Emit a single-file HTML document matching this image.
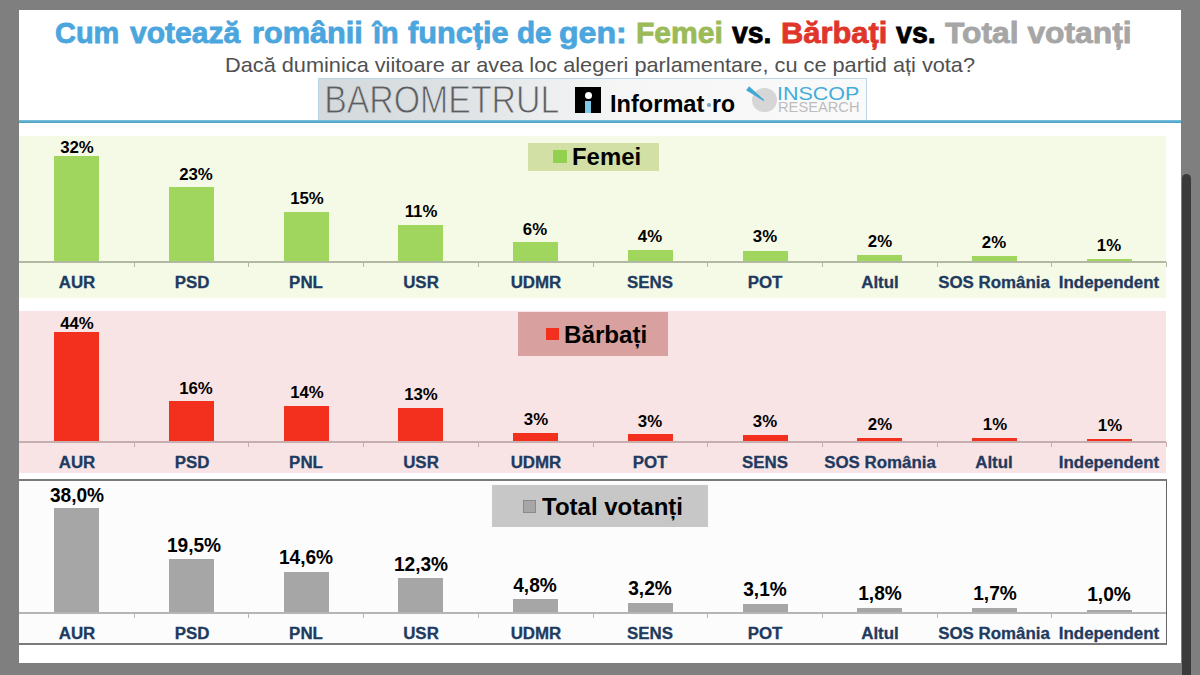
<!DOCTYPE html>
<html><head><meta charset="utf-8"><style>
html,body{margin:0;padding:0;}
body{width:1200px;height:675px;background:#7f7f7f;position:relative;overflow:hidden;font-family:"Liberation Sans", sans-serif;}
.t{position:absolute;line-height:1;white-space:nowrap;}
.c{text-align:center;}
.r{position:absolute;}
</style></head><body>
<div class="r" style="left:19.00px;top:10.00px;width:1162.00px;height:653.00px;background:#ffffff;"></div>
<div class="r" style="left:1182.00px;top:174.00px;width:9.00px;height:501.00px;background:#3b3b3b;border-radius:4.5px 4.5px 0 0;"></div>
<div class="t" style="left:55.44px;top:17.61px;font-size:30px;font-weight:bold;color:#4BA6DE;transform:scaleX(0.9654);transform-origin:0 0;-webkit-text-stroke:0.8px currentColor;">Cum</div>
<div class="t" style="left:129.90px;top:17.61px;font-size:30px;font-weight:bold;color:#4BA6DE;transform:scaleX(1.0027);transform-origin:0 0;-webkit-text-stroke:0.8px currentColor;">votează</div>
<div class="t" style="left:251.75px;top:17.61px;font-size:30px;font-weight:bold;color:#4BA6DE;transform:scaleX(1.0230);transform-origin:0 0;-webkit-text-stroke:0.8px currentColor;">românii</div>
<div class="t" style="left:373.45px;top:17.61px;font-size:30px;font-weight:bold;color:#4BA6DE;transform:scaleX(0.9577);transform-origin:0 0;-webkit-text-stroke:0.8px currentColor;">în</div>
<div class="t" style="left:408.19px;top:17.61px;font-size:30px;font-weight:bold;color:#4BA6DE;transform:scaleX(1.0217);transform-origin:0 0;-webkit-text-stroke:0.8px currentColor;">funcție</div>
<div class="t" style="left:517.11px;top:17.61px;font-size:30px;font-weight:bold;color:#4BA6DE;transform:scaleX(0.9878);transform-origin:0 0;-webkit-text-stroke:0.8px currentColor;">de</div>
<div class="t" style="left:559.01px;top:17.61px;font-size:30px;font-weight:bold;color:#4BA6DE;transform:scaleX(1.0709);transform-origin:0 0;-webkit-text-stroke:0.8px currentColor;">gen:</div>
<div class="t" style="left:635.50px;top:17.61px;font-size:30px;font-weight:bold;color:#9BBB59;transform:scaleX(1.0024);transform-origin:0 0;-webkit-text-stroke:0.8px currentColor;">Femei</div>
<div class="t" style="left:732.41px;top:17.61px;font-size:30px;font-weight:bold;color:#000;transform:scaleX(0.9470);transform-origin:0 0;-webkit-text-stroke:0.8px currentColor;">vs.</div>
<div class="t" style="left:781.44px;top:17.61px;font-size:30px;font-weight:bold;color:#E0352B;transform:scaleX(1.0282);transform-origin:0 0;-webkit-text-stroke:0.8px currentColor;">Bărbați</div>
<div class="t" style="left:895.90px;top:17.61px;font-size:30px;font-weight:bold;color:#000;transform:scaleX(0.9520);transform-origin:0 0;-webkit-text-stroke:0.8px currentColor;">vs.</div>
<div class="t" style="left:944.68px;top:17.61px;font-size:30px;font-weight:bold;color:#A6A6A6;transform:scaleX(1.0593);transform-origin:0 0;-webkit-text-stroke:0.8px currentColor;">Total votanți</div>
<div class="t" style="left:224.89px;top:53.72px;font-size:21px;font-weight:normal;color:#505050;transform:scaleX(1.0347);transform-origin:0 0;">Dacă duminica viitoare ar avea loc alegeri parlamentare, cu ce partid ați vota?</div>
<div class="r" style="left:318.00px;top:78.00px;width:549.00px;height:42.00px;background:linear-gradient(90deg,#d3d9dc 0%,#dee2e4 25%,#eceeef 42%,#f6f6f6 55%,#fafafa 100%);box-sizing:border-box;border:1px solid #b9d7e6;border-bottom:none;"></div>
<svg class="r" style="left:318px;top:78px" width="549" height="42"><defs><linearGradient id="bg1" gradientUnits="userSpaceOnUse" x1="0" y1="0" x2="549" y2="0"><stop offset="0" stop-color="#d3d9dc"/><stop offset="0.25" stop-color="#dee2e4"/><stop offset="0.42" stop-color="#eceeef"/><stop offset="0.55" stop-color="#f6f6f6"/><stop offset="1" stop-color="#fafafa"/></linearGradient></defs><g transform="translate(6.14,0) scale(0.8916,1)"><text x="0" y="34.75" font-family="Liberation Sans" font-size="38" fill="#5c5d60" stroke="url(#bg1)" stroke-width="0.9" style="paint-order:normal">BAROMETRUL</text></g></svg>
<div class="r" style="left:575.40px;top:86.70px;width:25.90px;height:26.00px;background:#000;"></div>
<div class="r" style="left:584.8px;top:91.6px;width:7px;height:7px;border-radius:50%;background:#fff"></div>
<div class="r" style="left:585.00px;top:100.60px;width:6.30px;height:12.10px;background:#7EC8E3;"></div>
<div class="t" style="left:609.58px;top:92.58px;font-size:23.3px;font-weight:bold;color:#000;transform:scaleX(1.0120);transform-origin:0 0;">Informat</div>
<div class="r" style="left:707.2px;top:103.2px;width:3.4px;height:3.4px;border-radius:50%;background:#7aa7c7"></div>
<div class="t" style="left:712.22px;top:92.58px;font-size:23.3px;font-weight:bold;color:#000;transform:scaleX(0.9856);transform-origin:0 0;">ro</div>
<div class="r" style="left:752.2px;top:87.7px;width:24.6px;height:24.6px;border-radius:50%;background:#d6d6d6"></div>
<svg class="r" style="left:740px;top:80px" width="40" height="30"><polygon points="6.1,10.3 9.1,6.3 24.4,20.1 23.6,21" fill="#3fa9d6"/></svg>
<div class="t" style="left:777.44px;top:84.76px;font-size:18.6px;font-weight:normal;color:#43ADDA;transform:scaleX(1.1545);transform-origin:0 0;">INSCOP</div>
<div class="t" style="left:778.23px;top:101.12px;font-size:13.8px;font-weight:normal;color:#bdbdbd;transform:scaleX(1.0631);transform-origin:0 0;">RESEARCH</div>
<div class="r" style="left:19.00px;top:120.00px;width:1162.00px;height:3.00px;background:linear-gradient(180deg,#7cc3e2 0%,#5eaed0 50%,#4e9bbb 100%);"></div>
<div class="r" style="left:19.00px;top:136.00px;width:1147.00px;height:162.00px;background:#F5FAE7;"></div>
<div class="r" style="left:54.35px;top:155.75px;width:45.00px;height:107.25px;background:#A0D55E;"></div>
<div class="r" style="left:169.05px;top:187.00px;width:45.00px;height:76.00px;background:#A0D55E;"></div>
<div class="r" style="left:283.75px;top:212.00px;width:45.00px;height:51.00px;background:#A0D55E;"></div>
<div class="r" style="left:398.45px;top:225.00px;width:45.00px;height:38.00px;background:#A0D55E;"></div>
<div class="r" style="left:513.15px;top:241.75px;width:45.00px;height:21.25px;background:#A0D55E;"></div>
<div class="r" style="left:627.85px;top:249.50px;width:45.00px;height:13.50px;background:#A0D55E;"></div>
<div class="r" style="left:742.55px;top:250.75px;width:45.00px;height:12.25px;background:#A0D55E;"></div>
<div class="r" style="left:857.25px;top:254.50px;width:45.00px;height:8.50px;background:#A0D55E;"></div>
<div class="r" style="left:971.95px;top:255.75px;width:45.00px;height:7.25px;background:#A0D55E;"></div>
<div class="r" style="left:1086.65px;top:258.75px;width:45.00px;height:4.25px;background:#A0D55E;"></div>
<div class="r" style="left:19.00px;top:261.00px;width:1147.00px;height:2.00px;background:#b3b8a3;"></div>
<div class="r" style="left:133.70px;top:262.00px;width:1.00px;height:5.00px;background:#b3b8a3;"></div>
<div class="r" style="left:248.40px;top:262.00px;width:1.00px;height:5.00px;background:#b3b8a3;"></div>
<div class="r" style="left:363.10px;top:262.00px;width:1.00px;height:5.00px;background:#b3b8a3;"></div>
<div class="r" style="left:477.80px;top:262.00px;width:1.00px;height:5.00px;background:#b3b8a3;"></div>
<div class="r" style="left:592.50px;top:262.00px;width:1.00px;height:5.00px;background:#b3b8a3;"></div>
<div class="r" style="left:707.20px;top:262.00px;width:1.00px;height:5.00px;background:#b3b8a3;"></div>
<div class="r" style="left:821.90px;top:262.00px;width:1.00px;height:5.00px;background:#b3b8a3;"></div>
<div class="r" style="left:936.60px;top:262.00px;width:1.00px;height:5.00px;background:#b3b8a3;"></div>
<div class="r" style="left:1051.30px;top:262.00px;width:1.00px;height:5.00px;background:#b3b8a3;"></div>
<div class="r" style="left:1166.00px;top:262.00px;width:1.00px;height:5.00px;background:#b3b8a3;"></div>
<div class="t c" style="left:-223.10px;width:600px;top:140.46px;font-size:16px;font-weight:bold;color:#000;transform:scaleX(1.0500);transform-origin:50% 0;">32%</div>
<div class="t c" style="left:-223.15px;width:600px;top:274.96px;font-size:16px;font-weight:bold;color:#213A5F;transform:scaleX(1.0550);transform-origin:50% 0;-webkit-text-stroke:0.3px currentColor;">AUR</div>
<div class="t c" style="left:-103.75px;width:600px;top:167.46px;font-size:16px;font-weight:bold;color:#000;transform:scaleX(1.0500);transform-origin:50% 0;">23%</div>
<div class="t c" style="left:-108.45px;width:600px;top:274.96px;font-size:16px;font-weight:bold;color:#213A5F;transform:scaleX(1.0550);transform-origin:50% 0;-webkit-text-stroke:0.3px currentColor;">PSD</div>
<div class="t c" style="left:6.50px;width:600px;top:191.21px;font-size:16px;font-weight:bold;color:#000;transform:scaleX(1.0500);transform-origin:50% 0;">15%</div>
<div class="t c" style="left:6.25px;width:600px;top:274.96px;font-size:16px;font-weight:bold;color:#213A5F;transform:scaleX(1.0550);transform-origin:50% 0;-webkit-text-stroke:0.3px currentColor;">PNL</div>
<div class="t c" style="left:121.25px;width:600px;top:204.46px;font-size:16px;font-weight:bold;color:#000;transform:scaleX(1.0500);transform-origin:50% 0;">11%</div>
<div class="t c" style="left:120.95px;width:600px;top:274.96px;font-size:16px;font-weight:bold;color:#213A5F;transform:scaleX(1.0550);transform-origin:50% 0;-webkit-text-stroke:0.3px currentColor;">USR</div>
<div class="t c" style="left:235.40px;width:600px;top:221.96px;font-size:16px;font-weight:bold;color:#000;transform:scaleX(1.0500);transform-origin:50% 0;">6%</div>
<div class="t c" style="left:235.65px;width:600px;top:274.96px;font-size:16px;font-weight:bold;color:#213A5F;transform:scaleX(1.0550);transform-origin:50% 0;-webkit-text-stroke:0.3px currentColor;">UDMR</div>
<div class="t c" style="left:350.10px;width:600px;top:228.71px;font-size:16px;font-weight:bold;color:#000;transform:scaleX(1.0500);transform-origin:50% 0;">4%</div>
<div class="t c" style="left:350.35px;width:600px;top:274.96px;font-size:16px;font-weight:bold;color:#213A5F;transform:scaleX(1.0550);transform-origin:50% 0;-webkit-text-stroke:0.3px currentColor;">SENS</div>
<div class="t c" style="left:465.10px;width:600px;top:229.46px;font-size:16px;font-weight:bold;color:#000;transform:scaleX(1.0500);transform-origin:50% 0;">3%</div>
<div class="t c" style="left:465.05px;width:600px;top:274.96px;font-size:16px;font-weight:bold;color:#213A5F;transform:scaleX(1.0550);transform-origin:50% 0;-webkit-text-stroke:0.3px currentColor;">POT</div>
<div class="t c" style="left:579.60px;width:600px;top:233.71px;font-size:16px;font-weight:bold;color:#000;transform:scaleX(1.0500);transform-origin:50% 0;">2%</div>
<div class="t c" style="left:579.75px;width:600px;top:274.96px;font-size:16px;font-weight:bold;color:#213A5F;transform:scaleX(1.0550);transform-origin:50% 0;-webkit-text-stroke:0.3px currentColor;">Altul</div>
<div class="t c" style="left:694.40px;width:600px;top:234.96px;font-size:16px;font-weight:bold;color:#000;transform:scaleX(1.0500);transform-origin:50% 0;">2%</div>
<div class="t c" style="left:694.45px;width:600px;top:274.96px;font-size:16px;font-weight:bold;color:#213A5F;transform:scaleX(1.0550);transform-origin:50% 0;-webkit-text-stroke:0.3px currentColor;">SOS România</div>
<div class="t c" style="left:809.10px;width:600px;top:237.96px;font-size:16px;font-weight:bold;color:#000;transform:scaleX(1.0500);transform-origin:50% 0;">1%</div>
<div class="t c" style="left:809.15px;width:600px;top:274.96px;font-size:16px;font-weight:bold;color:#213A5F;transform:scaleX(1.0550);transform-origin:50% 0;-webkit-text-stroke:0.3px currentColor;">Independent</div>
<div class="r" style="left:19.00px;top:311.00px;width:1147.00px;height:162.00px;background:#F9E4E5;"></div>
<div class="r" style="left:54.35px;top:332.00px;width:45.00px;height:111.00px;background:#F2301D;"></div>
<div class="r" style="left:169.05px;top:401.25px;width:45.00px;height:41.75px;background:#F2301D;"></div>
<div class="r" style="left:283.75px;top:406.25px;width:45.00px;height:36.75px;background:#F2301D;"></div>
<div class="r" style="left:398.45px;top:408.25px;width:45.00px;height:34.75px;background:#F2301D;"></div>
<div class="r" style="left:513.15px;top:433.00px;width:45.00px;height:10.00px;background:#F2301D;"></div>
<div class="r" style="left:627.85px;top:434.25px;width:45.00px;height:8.75px;background:#F2301D;"></div>
<div class="r" style="left:742.55px;top:435.00px;width:45.00px;height:8.00px;background:#F2301D;"></div>
<div class="r" style="left:857.25px;top:437.50px;width:45.00px;height:5.50px;background:#F2301D;"></div>
<div class="r" style="left:971.95px;top:438.00px;width:45.00px;height:5.00px;background:#F2301D;"></div>
<div class="r" style="left:1086.65px;top:439.00px;width:45.00px;height:4.00px;background:#F2301D;"></div>
<div class="r" style="left:19.00px;top:441.00px;width:1147.00px;height:2.00px;background:#c6aeae;"></div>
<div class="r" style="left:133.70px;top:442.00px;width:1.00px;height:5.00px;background:#c6aeae;"></div>
<div class="r" style="left:248.40px;top:442.00px;width:1.00px;height:5.00px;background:#c6aeae;"></div>
<div class="r" style="left:363.10px;top:442.00px;width:1.00px;height:5.00px;background:#c6aeae;"></div>
<div class="r" style="left:477.80px;top:442.00px;width:1.00px;height:5.00px;background:#c6aeae;"></div>
<div class="r" style="left:592.50px;top:442.00px;width:1.00px;height:5.00px;background:#c6aeae;"></div>
<div class="r" style="left:707.20px;top:442.00px;width:1.00px;height:5.00px;background:#c6aeae;"></div>
<div class="r" style="left:821.90px;top:442.00px;width:1.00px;height:5.00px;background:#c6aeae;"></div>
<div class="r" style="left:936.60px;top:442.00px;width:1.00px;height:5.00px;background:#c6aeae;"></div>
<div class="r" style="left:1051.30px;top:442.00px;width:1.00px;height:5.00px;background:#c6aeae;"></div>
<div class="r" style="left:1166.00px;top:442.00px;width:1.00px;height:5.00px;background:#c6aeae;"></div>
<div class="t c" style="left:-223.40px;width:600px;top:316.21px;font-size:16px;font-weight:bold;color:#000;transform:scaleX(1.0500);transform-origin:50% 0;">44%</div>
<div class="t c" style="left:-223.15px;width:600px;top:454.96px;font-size:16px;font-weight:bold;color:#213A5F;transform:scaleX(1.0550);transform-origin:50% 0;-webkit-text-stroke:0.3px currentColor;">AUR</div>
<div class="t c" style="left:-103.75px;width:600px;top:381.21px;font-size:16px;font-weight:bold;color:#000;transform:scaleX(1.0500);transform-origin:50% 0;">16%</div>
<div class="t c" style="left:-108.45px;width:600px;top:454.96px;font-size:16px;font-weight:bold;color:#213A5F;transform:scaleX(1.0550);transform-origin:50% 0;-webkit-text-stroke:0.3px currentColor;">PSD</div>
<div class="t c" style="left:6.50px;width:600px;top:385.46px;font-size:16px;font-weight:bold;color:#000;transform:scaleX(1.0500);transform-origin:50% 0;">14%</div>
<div class="t c" style="left:6.25px;width:600px;top:454.96px;font-size:16px;font-weight:bold;color:#213A5F;transform:scaleX(1.0550);transform-origin:50% 0;-webkit-text-stroke:0.3px currentColor;">PNL</div>
<div class="t c" style="left:121.25px;width:600px;top:387.46px;font-size:16px;font-weight:bold;color:#000;transform:scaleX(1.0500);transform-origin:50% 0;">13%</div>
<div class="t c" style="left:120.95px;width:600px;top:454.96px;font-size:16px;font-weight:bold;color:#213A5F;transform:scaleX(1.0550);transform-origin:50% 0;-webkit-text-stroke:0.3px currentColor;">USR</div>
<div class="t c" style="left:235.60px;width:600px;top:411.96px;font-size:16px;font-weight:bold;color:#000;transform:scaleX(1.0500);transform-origin:50% 0;">3%</div>
<div class="t c" style="left:235.65px;width:600px;top:454.96px;font-size:16px;font-weight:bold;color:#213A5F;transform:scaleX(1.0550);transform-origin:50% 0;-webkit-text-stroke:0.3px currentColor;">UDMR</div>
<div class="t c" style="left:350.25px;width:600px;top:413.71px;font-size:16px;font-weight:bold;color:#000;transform:scaleX(1.0500);transform-origin:50% 0;">3%</div>
<div class="t c" style="left:350.35px;width:600px;top:454.96px;font-size:16px;font-weight:bold;color:#213A5F;transform:scaleX(1.0550);transform-origin:50% 0;-webkit-text-stroke:0.3px currentColor;">POT</div>
<div class="t c" style="left:465.10px;width:600px;top:414.46px;font-size:16px;font-weight:bold;color:#000;transform:scaleX(1.0500);transform-origin:50% 0;">3%</div>
<div class="t c" style="left:465.05px;width:600px;top:454.96px;font-size:16px;font-weight:bold;color:#213A5F;transform:scaleX(1.0550);transform-origin:50% 0;-webkit-text-stroke:0.3px currentColor;">SENS</div>
<div class="t c" style="left:579.60px;width:600px;top:416.96px;font-size:16px;font-weight:bold;color:#000;transform:scaleX(1.0500);transform-origin:50% 0;">2%</div>
<div class="t c" style="left:579.75px;width:600px;top:454.96px;font-size:16px;font-weight:bold;color:#213A5F;transform:scaleX(1.0550);transform-origin:50% 0;-webkit-text-stroke:0.3px currentColor;">SOS România</div>
<div class="t c" style="left:694.60px;width:600px;top:417.46px;font-size:16px;font-weight:bold;color:#000;transform:scaleX(1.0500);transform-origin:50% 0;">1%</div>
<div class="t c" style="left:694.45px;width:600px;top:454.96px;font-size:16px;font-weight:bold;color:#213A5F;transform:scaleX(1.0550);transform-origin:50% 0;-webkit-text-stroke:0.3px currentColor;">Altul</div>
<div class="t c" style="left:809.60px;width:600px;top:417.76px;font-size:16px;font-weight:bold;color:#000;transform:scaleX(1.0500);transform-origin:50% 0;">1%</div>
<div class="t c" style="left:809.15px;width:600px;top:454.96px;font-size:16px;font-weight:bold;color:#213A5F;transform:scaleX(1.0550);transform-origin:50% 0;-webkit-text-stroke:0.3px currentColor;">Independent</div>
<div class="r" style="left:19.00px;top:479.00px;width:1148.00px;height:166.00px;background:#FCFCFC;box-sizing:border-box;border-top:2px solid #7a7a7a;border-bottom:2px solid #7a7a7a;border-right:1px solid #666;"></div>
<div class="r" style="left:54.35px;top:507.50px;width:45.00px;height:106.50px;background:#A6A6A6;"></div>
<div class="r" style="left:169.05px;top:558.75px;width:45.00px;height:55.25px;background:#A6A6A6;"></div>
<div class="r" style="left:283.75px;top:572.00px;width:45.00px;height:42.00px;background:#A6A6A6;"></div>
<div class="r" style="left:398.45px;top:578.25px;width:45.00px;height:35.75px;background:#A6A6A6;"></div>
<div class="r" style="left:513.15px;top:599.25px;width:45.00px;height:14.75px;background:#A6A6A6;"></div>
<div class="r" style="left:627.85px;top:603.25px;width:45.00px;height:10.75px;background:#A6A6A6;"></div>
<div class="r" style="left:742.55px;top:603.75px;width:45.00px;height:10.25px;background:#A6A6A6;"></div>
<div class="r" style="left:857.25px;top:607.50px;width:45.00px;height:6.50px;background:#A6A6A6;"></div>
<div class="r" style="left:971.95px;top:608.00px;width:45.00px;height:6.00px;background:#A6A6A6;"></div>
<div class="r" style="left:1086.65px;top:609.80px;width:45.00px;height:4.20px;background:#A6A6A6;"></div>
<div class="r" style="left:19.00px;top:612.00px;width:1147.00px;height:2.00px;background:#b5b5b5;"></div>
<div class="r" style="left:133.70px;top:613.00px;width:1.00px;height:5.00px;background:#b5b5b5;"></div>
<div class="r" style="left:248.40px;top:613.00px;width:1.00px;height:5.00px;background:#b5b5b5;"></div>
<div class="r" style="left:363.10px;top:613.00px;width:1.00px;height:5.00px;background:#b5b5b5;"></div>
<div class="r" style="left:477.80px;top:613.00px;width:1.00px;height:5.00px;background:#b5b5b5;"></div>
<div class="r" style="left:592.50px;top:613.00px;width:1.00px;height:5.00px;background:#b5b5b5;"></div>
<div class="r" style="left:707.20px;top:613.00px;width:1.00px;height:5.00px;background:#b5b5b5;"></div>
<div class="r" style="left:821.90px;top:613.00px;width:1.00px;height:5.00px;background:#b5b5b5;"></div>
<div class="r" style="left:936.60px;top:613.00px;width:1.00px;height:5.00px;background:#b5b5b5;"></div>
<div class="r" style="left:1051.30px;top:613.00px;width:1.00px;height:5.00px;background:#b5b5b5;"></div>
<div class="t c" style="left:-223.40px;width:600px;top:485.99px;font-size:19.5px;font-weight:bold;color:#000;transform:scaleX(0.9800);transform-origin:50% 0;">38,0%</div>
<div class="t c" style="left:-223.15px;width:600px;top:625.96px;font-size:16px;font-weight:bold;color:#213A5F;transform:scaleX(1.0550);transform-origin:50% 0;-webkit-text-stroke:0.3px currentColor;">AUR</div>
<div class="t c" style="left:-106.00px;width:600px;top:535.99px;font-size:19.5px;font-weight:bold;color:#000;transform:scaleX(0.9800);transform-origin:50% 0;">19,5%</div>
<div class="t c" style="left:-108.45px;width:600px;top:625.96px;font-size:16px;font-weight:bold;color:#213A5F;transform:scaleX(1.0550);transform-origin:50% 0;-webkit-text-stroke:0.3px currentColor;">PSD</div>
<div class="t c" style="left:6.30px;width:600px;top:547.99px;font-size:19.5px;font-weight:bold;color:#000;transform:scaleX(0.9800);transform-origin:50% 0;">14,6%</div>
<div class="t c" style="left:6.25px;width:600px;top:625.96px;font-size:16px;font-weight:bold;color:#213A5F;transform:scaleX(1.0550);transform-origin:50% 0;-webkit-text-stroke:0.3px currentColor;">PNL</div>
<div class="t c" style="left:121.25px;width:600px;top:555.24px;font-size:19.5px;font-weight:bold;color:#000;transform:scaleX(0.9800);transform-origin:50% 0;">12,3%</div>
<div class="t c" style="left:120.95px;width:600px;top:625.96px;font-size:16px;font-weight:bold;color:#213A5F;transform:scaleX(1.0550);transform-origin:50% 0;-webkit-text-stroke:0.3px currentColor;">USR</div>
<div class="t c" style="left:235.40px;width:600px;top:575.74px;font-size:19.5px;font-weight:bold;color:#000;transform:scaleX(0.9800);transform-origin:50% 0;">4,8%</div>
<div class="t c" style="left:235.65px;width:600px;top:625.96px;font-size:16px;font-weight:bold;color:#213A5F;transform:scaleX(1.0550);transform-origin:50% 0;-webkit-text-stroke:0.3px currentColor;">UDMR</div>
<div class="t c" style="left:350.00px;width:600px;top:579.49px;font-size:19.5px;font-weight:bold;color:#000;transform:scaleX(0.9800);transform-origin:50% 0;">3,2%</div>
<div class="t c" style="left:350.35px;width:600px;top:625.96px;font-size:16px;font-weight:bold;color:#213A5F;transform:scaleX(1.0550);transform-origin:50% 0;-webkit-text-stroke:0.3px currentColor;">SENS</div>
<div class="t c" style="left:465.40px;width:600px;top:580.24px;font-size:19.5px;font-weight:bold;color:#000;transform:scaleX(0.9800);transform-origin:50% 0;">3,1%</div>
<div class="t c" style="left:465.05px;width:600px;top:625.96px;font-size:16px;font-weight:bold;color:#213A5F;transform:scaleX(1.0550);transform-origin:50% 0;-webkit-text-stroke:0.3px currentColor;">POT</div>
<div class="t c" style="left:579.75px;width:600px;top:583.99px;font-size:19.5px;font-weight:bold;color:#000;transform:scaleX(0.9800);transform-origin:50% 0;">1,8%</div>
<div class="t c" style="left:579.75px;width:600px;top:625.96px;font-size:16px;font-weight:bold;color:#213A5F;transform:scaleX(1.0550);transform-origin:50% 0;-webkit-text-stroke:0.3px currentColor;">Altul</div>
<div class="t c" style="left:694.75px;width:600px;top:583.99px;font-size:19.5px;font-weight:bold;color:#000;transform:scaleX(0.9800);transform-origin:50% 0;">1,7%</div>
<div class="t c" style="left:694.45px;width:600px;top:625.96px;font-size:16px;font-weight:bold;color:#213A5F;transform:scaleX(1.0550);transform-origin:50% 0;-webkit-text-stroke:0.3px currentColor;">SOS România</div>
<div class="t c" style="left:809.25px;width:600px;top:585.24px;font-size:19.5px;font-weight:bold;color:#000;transform:scaleX(0.9800);transform-origin:50% 0;">1,0%</div>
<div class="t c" style="left:809.15px;width:600px;top:625.96px;font-size:16px;font-weight:bold;color:#213A5F;transform:scaleX(1.0550);transform-origin:50% 0;-webkit-text-stroke:0.3px currentColor;">Independent</div>
<div class="r" style="left:528.30px;top:142.50px;width:131.20px;height:28.30px;background:#D2E0A6;"></div>
<div class="r" style="left:553.30px;top:150.00px;width:13.60px;height:12.50px;background:#92D050;"></div>
<div class="t" style="left:572.21px;top:145.08px;font-size:24px;font-weight:bold;color:#000;transform:scaleX(0.9955);transform-origin:0 0;">Femei</div>
<div class="r" style="left:518.00px;top:311.70px;width:149.50px;height:44.10px;background:#D9A0A0;"></div>
<div class="r" style="left:545.50px;top:327.50px;width:13.30px;height:12.50px;background:#F2301D;"></div>
<div class="t" style="left:563.79px;top:322.98px;font-size:24px;font-weight:bold;color:#000;transform:scaleX(1.0076);transform-origin:0 0;">Bărbați</div>
<div class="r" style="left:492.30px;top:485.20px;width:215.40px;height:41.80px;background:#C7C7C7;"></div>
<div class="r" style="left:523.25px;top:500.20px;width:12.75px;height:12.60px;background:#A6A6A6;box-sizing:border-box;border:1px solid #8a8a8a;"></div>
<div class="t" style="left:542.10px;top:494.93px;font-size:24px;font-weight:bold;color:#000;transform:scaleX(1.0007);transform-origin:0 0;">Total votanți</div>
</body></html>
